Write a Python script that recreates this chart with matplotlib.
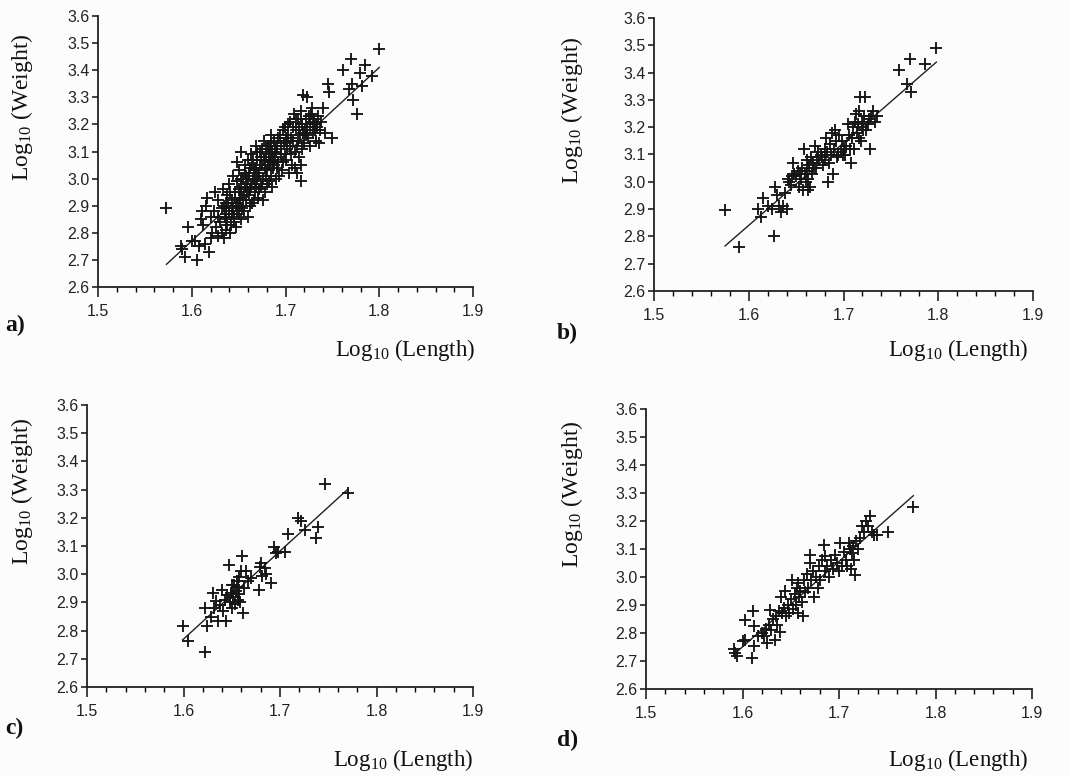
import numpy as np
import matplotlib
matplotlib.use('agg')
from matplotlib import pyplot as plt


# ====================================
# Data
# ====================================
# panel a)
a_len = [1.573, 1.588, 1.590, 1.593, 1.596, 1.600, 1.603, 1.606, 1.608, 1.610, 1.611, 1.612,
         1.615, 1.616, 1.614, 1.618, 1.620, 1.622, 1.620, 1.624, 1.625, 1.626, 1.628, 1.628,
         1.630, 1.632, 1.633, 1.634, 1.635, 1.636, 1.637, 1.638, 1.640, 1.640, 1.642, 1.643,
         1.644, 1.645, 1.646, 1.647, 1.648, 1.648, 1.650, 1.650, 1.651, 1.652, 1.653, 1.654,
         1.655, 1.656, 1.657, 1.658, 1.659, 1.660, 1.660, 1.661, 1.662, 1.663, 1.664, 1.665,
         1.666, 1.667, 1.668, 1.669, 1.670, 1.671, 1.672, 1.673, 1.674, 1.675, 1.676, 1.677,
         1.678, 1.679, 1.680, 1.681, 1.682, 1.683, 1.684, 1.685, 1.686, 1.687, 1.688, 1.689,
         1.690, 1.691, 1.692, 1.694, 1.695, 1.696, 1.698, 1.699, 1.700, 1.702, 1.703, 1.704,
         1.705, 1.706, 1.708, 1.709, 1.710, 1.711, 1.712, 1.713, 1.714, 1.715, 1.716, 1.717,
         1.718, 1.719, 1.720, 1.721, 1.722, 1.723, 1.724, 1.726, 1.727, 1.729, 1.730, 1.732,
         1.734, 1.736, 1.738, 1.740, 1.742, 1.745, 1.746, 1.750, 1.761, 1.768, 1.770, 1.771,
         1.772, 1.776, 1.779, 1.782, 1.785, 1.792, 1.800,
         1.641, 1.645, 1.649, 1.652, 1.656, 1.658, 1.662, 1.664, 1.667, 1.669, 1.672, 1.674,
         1.676, 1.678, 1.680, 1.683, 1.686, 1.688, 1.690, 1.693, 1.697, 1.700, 1.628, 1.632,
         1.636, 1.638, 1.644, 1.647, 1.653, 1.657, 1.661, 1.666, 1.670, 1.675, 1.679, 1.684,
         1.705, 1.710, 1.714, 1.718, 1.722, 1.726, 1.731, 1.716, 1.712, 1.707, 1.735, 1.728,
         1.634, 1.637, 1.639, 1.641, 1.643, 1.646, 1.648, 1.650, 1.651, 1.653, 1.655, 1.657,
         1.659, 1.660, 1.662, 1.663, 1.665, 1.667, 1.668, 1.670, 1.671, 1.673, 1.675, 1.677,
         1.679, 1.681, 1.682, 1.685, 1.687, 1.689, 1.691, 1.692, 1.695, 1.697, 1.699, 1.701,
         1.703, 1.706, 1.708, 1.711, 1.713, 1.717, 1.719, 1.723, 1.725, 1.729, 1.733, 1.737]
a_wt = [2.89, 2.75, 2.74, 2.71, 2.82, 2.77, 2.77, 2.70, 2.75, 2.85, 2.88, 2.83,
        2.90, 2.93, 2.76, 2.73, 2.78, 2.80, 2.86, 2.88, 2.95, 2.82, 2.79, 2.92,
        2.84, 2.89, 2.96, 2.78, 2.86, 2.91, 2.81, 2.94, 2.88, 2.98, 2.83, 2.92,
        3.01, 2.86, 2.95, 2.90, 3.06, 2.99, 2.87, 3.03, 2.93, 2.97, 3.10, 2.89,
        3.00, 2.94, 3.05, 2.92, 2.98, 3.07, 2.86, 3.02, 2.96, 3.09, 2.91, 3.00,
        3.04, 2.95, 3.12, 2.98, 3.07, 2.93, 3.02, 3.10, 2.97, 3.05, 3.00, 3.14,
        2.95, 3.08, 3.03, 3.12, 2.99, 3.06, 3.16, 3.01, 3.10, 3.04, 3.14, 3.08,
        3.00, 3.12, 3.06, 3.16, 3.09, 3.03, 3.13, 3.19, 3.07, 3.11, 3.16, 3.02,
        3.21, 3.09, 3.14, 3.24, 3.04, 3.18, 3.12, 3.22, 3.08, 3.16, 3.25, 2.99,
        3.20, 3.31, 3.13, 3.18, 3.22, 3.30, 3.15, 3.20, 3.24, 3.17, 3.22, 3.14,
        3.19, 3.13, 3.21, 3.26, 3.17, 3.35, 3.32, 3.15, 3.40, 3.33, 3.44, 3.35,
        3.29, 3.24, 3.39, 3.34, 3.42, 3.38, 3.48,
        2.80, 2.84, 2.91, 2.85, 2.88, 3.01, 2.90, 3.05, 2.99, 3.04, 2.96, 3.08,
        2.92, 3.04, 2.98, 3.11, 2.97, 3.05, 3.10, 3.01, 3.06, 3.15, 2.86, 2.80,
        2.87, 2.83, 2.89, 2.82, 2.95, 2.97, 2.94, 2.92, 3.00, 3.11, 3.01, 3.07,
        3.12, 3.10, 3.19, 3.11, 3.16, 3.12, 3.18, 3.05, 3.02, 3.05, 3.23, 3.26,
        2.90, 2.85, 2.91, 2.95, 2.87, 2.93, 2.88, 2.96, 2.90, 3.00, 2.92, 3.02,
        2.95, 3.00, 3.04, 2.97, 3.07, 3.03, 2.97, 3.10, 3.01, 3.05, 2.98, 3.07,
        3.11, 3.05, 3.09, 3.13, 3.07, 3.11, 3.04, 3.15, 3.12, 3.18, 3.09, 3.14,
        3.20, 3.15, 3.19, 3.22, 3.14, 3.22, 3.17, 3.19, 3.23, 3.21, 3.20, 3.18]

# panel b)
b_len = [1.575, 1.590, 1.610, 1.613, 1.615, 1.620, 1.625, 1.627, 1.628, 1.630, 1.632, 1.634,
         1.636, 1.638, 1.640, 1.641, 1.643, 1.645, 1.647, 1.648, 1.650, 1.652, 1.653, 1.655,
         1.656, 1.658, 1.659, 1.660, 1.661, 1.662, 1.663, 1.664, 1.665, 1.666, 1.667, 1.668,
         1.670, 1.671, 1.672, 1.674, 1.676, 1.678, 1.680, 1.681, 1.682, 1.684, 1.685, 1.686,
         1.687, 1.688, 1.689, 1.690, 1.691, 1.692, 1.694, 1.695, 1.697, 1.699, 1.700, 1.703,
         1.705, 1.706, 1.708, 1.709, 1.710, 1.711, 1.712, 1.713, 1.714, 1.715, 1.716, 1.717,
         1.718, 1.719, 1.720, 1.722, 1.723, 1.724, 1.726, 1.728, 1.729, 1.731, 1.733, 1.735,
         1.759, 1.767, 1.770, 1.771, 1.786, 1.798,
         1.646, 1.654, 1.657, 1.663, 1.669, 1.673, 1.677, 1.683, 1.693, 1.698, 1.702, 1.707,
         1.716, 1.721, 1.727]
b_wt = [2.895, 2.763, 2.90, 2.87, 2.94, 2.91, 2.90, 2.80, 2.98, 2.95, 2.91, 2.89,
        2.91, 2.96, 2.90, 3.01, 3.00, 2.99, 3.07, 3.03, 3.02, 3.04, 2.98, 3.01,
        3.05, 3.12, 3.03, 3.00, 3.08, 3.04, 2.97, 3.06, 2.98, 3.09, 3.03, 3.07,
        3.13, 3.05, 3.09, 3.08, 3.10, 3.06, 3.12, 3.08, 3.16, 3.00, 3.07, 3.14,
        3.10, 3.18, 3.03, 3.12, 3.19, 3.15, 3.10, 3.17, 3.11, 3.10, 3.12, 3.13,
        3.21, 3.17, 3.07, 3.16, 3.20, 3.12, 3.22, 3.25, 3.18, 3.21, 3.26, 3.31,
        3.15, 3.22, 3.20, 3.24, 3.31, 3.19, 3.21, 3.12, 3.24, 3.26, 3.22, 3.24,
        3.41, 3.36, 3.45, 3.33, 3.43, 3.49,
        3.02, 3.03, 2.97, 3.01, 3.05, 3.11, 3.09, 3.11, 3.09, 3.15, 3.10, 3.12,
        3.16, 3.19, 3.23]

# panel c)
c_len = [1.599, 1.605, 1.622, 1.622, 1.624, 1.628, 1.631, 1.632, 1.634, 1.636, 1.638, 1.640,
         1.641, 1.643, 1.644, 1.645, 1.647, 1.648, 1.649, 1.650, 1.651, 1.652, 1.653, 1.654,
         1.655, 1.656, 1.657, 1.658, 1.659, 1.660, 1.661, 1.662, 1.663, 1.665, 1.667, 1.670,
         1.678, 1.679, 1.681, 1.684, 1.686, 1.691, 1.694, 1.696, 1.698, 1.705, 1.708, 1.719,
         1.722, 1.726, 1.737, 1.739, 1.747, 1.770, 1.680, 1.650, 1.656]
c_wt = [2.815, 2.762, 2.723, 2.880, 2.815, 2.850, 2.933, 2.880, 2.905, 2.833, 2.890, 2.945,
        2.870, 2.910, 2.833, 2.925, 3.033, 2.900, 2.935, 2.880, 2.920, 2.960, 2.895, 2.940,
        2.975, 2.910, 2.990, 2.930, 2.900, 3.010, 3.063, 2.862, 2.950, 3.010, 2.975, 2.985,
        2.945, 3.027, 2.992, 3.021, 3.000, 2.968, 3.098, 3.075, 3.080, 3.080, 3.143, 3.199,
        3.187, 3.155, 3.128, 3.169, 3.320, 3.287, 3.040, 2.960, 2.955]

# panel d)
d_len = [1.591, 1.592, 1.594, 1.600, 1.603, 1.603, 1.610, 1.611, 1.612, 1.612, 1.616, 1.620,
         1.622, 1.624, 1.625, 1.627, 1.629, 1.630, 1.632, 1.634, 1.635, 1.636, 1.638, 1.639,
         1.640, 1.641, 1.643, 1.644, 1.645, 1.647, 1.648, 1.650, 1.651, 1.652, 1.654, 1.655,
         1.656, 1.657, 1.658, 1.659, 1.660, 1.662, 1.663, 1.664, 1.665, 1.667, 1.668, 1.670,
         1.670, 1.671, 1.673, 1.674, 1.676, 1.678, 1.679, 1.680, 1.682, 1.684, 1.685, 1.686,
         1.688, 1.690, 1.692, 1.694, 1.696, 1.698, 1.700, 1.701, 1.703, 1.705, 1.707, 1.708,
         1.710, 1.711, 1.712, 1.713, 1.715, 1.716, 1.717, 1.718, 1.720, 1.722, 1.724, 1.726,
         1.728, 1.730, 1.732, 1.734, 1.736, 1.739, 1.751, 1.777]
d_wt = [2.743, 2.730, 2.717, 2.770, 2.776, 2.848, 2.711, 2.877, 2.752, 2.824, 2.790, 2.800,
        2.788, 2.815, 2.764, 2.830, 2.883, 2.810, 2.850, 2.776, 2.860, 2.830, 2.880, 2.805,
        2.930, 2.870, 2.890, 2.949, 2.860, 2.900, 2.870, 2.920, 2.990, 2.885, 2.940, 2.900,
        2.960, 2.870, 2.979, 2.930, 2.950, 2.910, 2.860, 2.990, 2.945, 3.010, 2.960, 3.080,
        3.050, 2.990, 3.020, 2.930, 3.000, 2.960, 3.040, 2.990, 3.060, 3.115, 3.020, 3.074,
        3.040, 3.000, 3.060, 3.030, 3.080, 3.050, 3.020, 3.121, 3.038, 3.090, 3.060, 3.040,
        3.121, 3.100, 3.030, 3.086, 3.110, 3.060, 3.008, 3.130, 3.100, 3.140, 3.181, 3.160,
        3.200, 3.181, 3.217, 3.160, 3.150, 3.151, 3.161, 3.250]

# regression lines drawn in the figure: slope, intercept
fit_slope = [3.20, 3.02, 3.12, 3.05]
fit_icpt = [-2.350, -1.9915, -2.222, -2.1295]

panel_names = ['a)', 'b)', 'c)', 'd)']

# ====================================
# Layout (pixels of the 1069x776 scan)
# ====================================
W, H = 1069, 776
plt.rcParams['font.family'] = 'serif'
plt.rcParams['font.serif'] = ['Liberation Serif', 'DejaVu Serif']
plt.rcParams['mathtext.default'] = 'regular'

fig = plt.figure(figsize=(W / 100, H / 100), dpi=100)
fig.patch.set_facecolor('#fcfcfc')

# left, right, top, bottom of each axes box in px
boxes = [(98, 473, 16, 287), (654, 1033, 18, 291),
         (87, 473, 405, 687), (646, 1032, 409, 689)]
ylab_pos = [(-0.203, 0.664), (-0.216, 0.663), (-0.168, 0.695), (-0.192, 0.696)]
xlab_pos = [(1.005, -0.232), (0.987, -0.216), (1.0, -0.259), (0.990, -0.254)]
letter_pos = [(5, 325), (557, 333), (5, 728), (557, 740)]

data = [(a_len, a_wt), (b_len, b_wt), (c_len, c_wt), (d_len, d_wt)]

for i in range(4):
    l, r, t, b = boxes[i]
    ax = fig.add_axes([l / W, 1 - b / H, (r - l) / W, (b - t) / H])
    ax.set_facecolor('none')
    x, y = data[i]
    ax.scatter(x, y, marker='+', s=75, linewidths=1.35, color='#151515', zorder=3)

    # fitted line over the range of the data
    xl = np.array([min(x), max(x)])
    ax.plot(xl, fit_slope[i] * xl + fit_icpt[i], color='#202020', lw=1.0, zorder=2)

    ax.set_xlim(1.5, 1.9)
    ax.set_ylim(2.6, 3.6)
    for s in ['top', 'right']:
        ax.spines[s].set_visible(False)
    for s in ['left', 'bottom']:
        ax.spines[s].set_linewidth(1.3)
        ax.spines[s].set_color('#222222')

    ax.set_xticks(np.arange(1.5, 1.901, 0.1))
    ax.set_xticks(np.arange(1.5, 1.901, 0.02), minor=True)
    ax.set_yticks(np.arange(2.6, 3.601, 0.1))
    ax.set_xticklabels(['%.1f' % v for v in np.arange(1.5, 1.901, 0.1)])
    ax.set_yticklabels(['%.1f' % v for v in np.arange(2.6, 3.601, 0.1)])
    ax.tick_params(axis='x', which='major', direction='out', length=7, width=1.2, pad=5,
                   labelsize=11.5, colors='#222222')
    ax.tick_params(axis='x', which='minor', direction='out', length=3.5, width=1.0)
    ax.tick_params(axis='y', which='major', direction='out', length=4, width=1.2, pad=2,
                   labelsize=11.5, colors='#222222')
    for lab in ax.get_xticklabels() + ax.get_yticklabels():
        lab.set_family('Liberation Sans')

    ax.text(ylab_pos[i][0], ylab_pos[i][1], 'Log$_{10}$ (Weight)', transform=ax.transAxes,
            rotation=90, ha='center', va='center', fontsize=17, color='#111111')
    ax.text(xlab_pos[i][0], xlab_pos[i][1], 'Log$_{10}$ (Length)', transform=ax.transAxes,
            ha='right', va='center', fontsize=16.5, color='#111111')

    fig.text(letter_pos[i][0] / W, 1 - letter_pos[i][1] / H, panel_names[i],
             ha='left', va='center', fontsize=17, fontweight='bold', color='#111111')

plt.savefig('out.png', dpi=100, facecolor=fig.get_facecolor())
